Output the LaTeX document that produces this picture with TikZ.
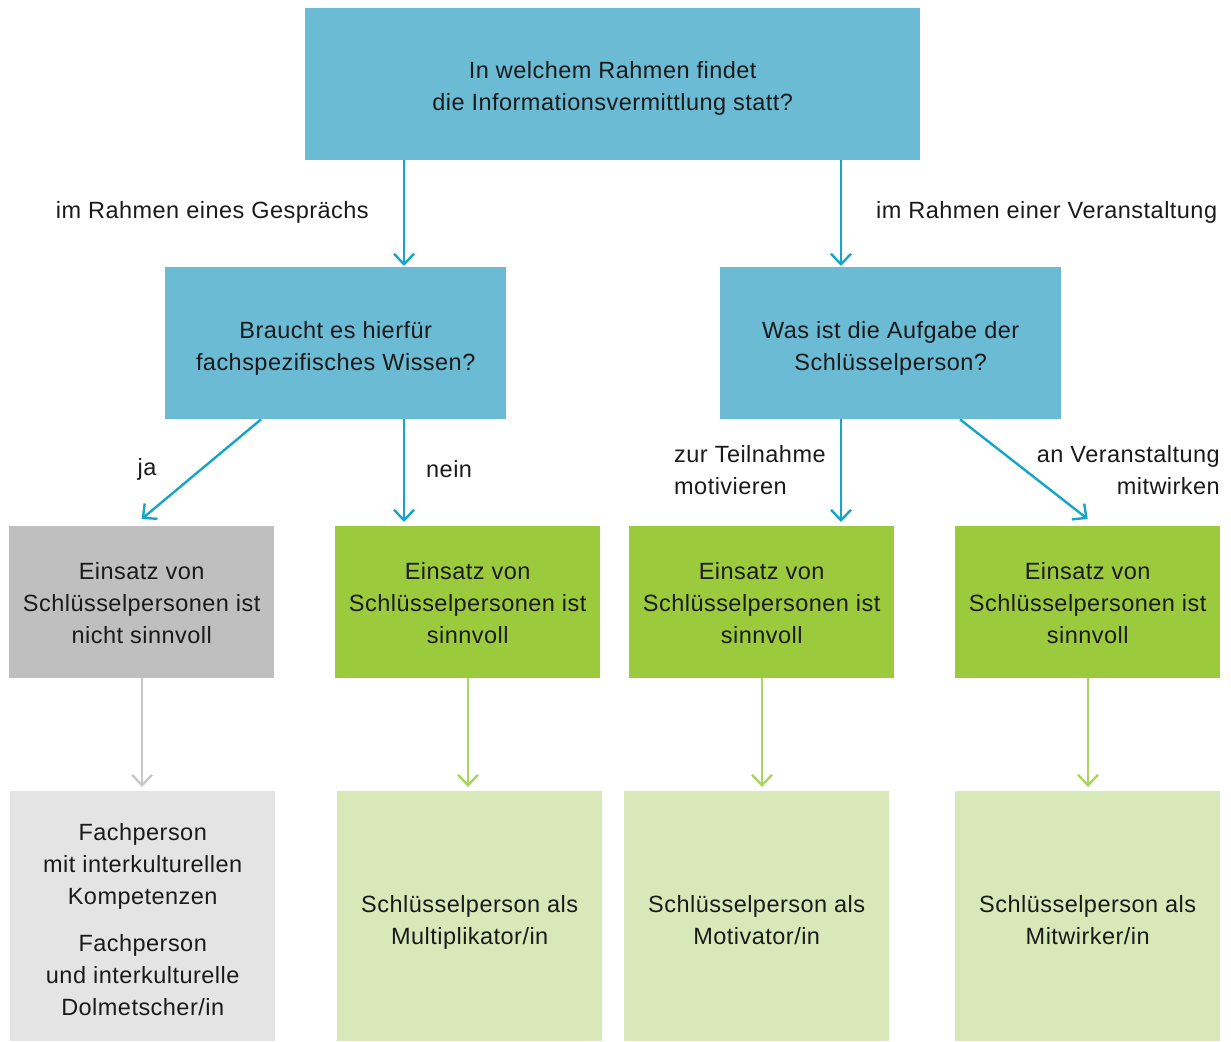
\documentclass[tikz,border=0pt]{standalone}
\usepackage{fontspec}
\setmainfont{Liberation Sans}[LetterSpace=2]
\usetikzlibrary{arrows.meta}
\definecolor{qblue}{HTML}{6BBBD5}
\definecolor{ablue}{HTML}{16A5C9}
\definecolor{bgreen}{HTML}{9BCA3C}
\definecolor{lgreen}{HTML}{D9E8B9}
\definecolor{bgrey}{HTML}{BFBFBF}
\definecolor{lgrey}{HTML}{E5E4E5}
\definecolor{agrey}{HTML}{C9C9C9}
\definecolor{agreen}{HTML}{A9D462}
\definecolor{txt}{HTML}{1A1A1A}
\begin{document}
\begin{tikzpicture}[x=1pt,y=-1pt,
  every node/.style={font=\fontsize{23.5}{32}\selectfont, text=txt},
  box/.style={draw=none, inner sep=0pt, anchor=north west},
  tx/.style={inner sep=0pt, align=center},
  con/.style={line width=2.4pt, -{Straight Barb[length=10.5pt,width=20pt,line width=2.4pt]}},
  lbl/.style={inner sep=0pt}
]
\useasboundingbox (0,0) rectangle (1231,1041);
% boxes
\node[box, fill=qblue, minimum width=615pt, minimum height=152pt] (top) at (305,8) {};
\node[box, fill=qblue, minimum width=341pt, minimum height=152pt] (lq) at (165,267) {};
\node[box, fill=qblue, minimum width=341pt, minimum height=152pt] (rq) at (720,267) {};
\node[box, fill=bgrey, minimum width=265pt, minimum height=152pt] (g1) at (9,526) {};
\node[box, fill=bgreen, minimum width=265pt, minimum height=152pt] (g2) at (335,526) {};
\node[box, fill=bgreen, minimum width=265pt, minimum height=152pt] (g3) at (629,526) {};
\node[box, fill=bgreen, minimum width=265pt, minimum height=152pt] (g4) at (955,526) {};
\node[box, fill=lgrey, minimum width=265pt, minimum height=250pt] (r1) at (10,791) {};
\node[box, fill=lgreen, minimum width=265pt, minimum height=250pt] (r2) at (337,791) {};
\node[box, fill=lgreen, minimum width=265pt, minimum height=250pt] (r3) at (624,791) {};
\node[box, fill=lgreen, minimum width=265pt, minimum height=250pt] (r4) at (955,791) {};
% box texts
\node[tx] (topt) at ([yshift=-4pt]top.center) {In welchem Rahmen findet\\die Informationsvermittlung statt?};
\node[tx] (lqt) at ([yshift=-5pt]lq.center) {Braucht es hierfür\\fachspezifisches Wissen?};
\node[tx] (rqt) at ([yshift=-5pt]rq.center) {Was ist die Aufgabe der\\Schlüsselperson?};
\node[tx] (g1t) at ([yshift=-1pt]g1.center) {Einsatz von\\Schlüsselpersonen ist\\nicht sinnvoll};
\node[tx] (g2t) at ([yshift=-1pt]g2.center) {Einsatz von\\Schlüsselpersonen ist\\sinnvoll};
\node[tx] (g3t) at ([yshift=-1pt]g3.center) {Einsatz von\\Schlüsselpersonen ist\\sinnvoll};
\node[tx] (g4t) at ([yshift=-1pt]g4.center) {Einsatz von\\Schlüsselpersonen ist\\sinnvoll};
\node[tx] (r1t) at ([yshift=-3pt]r1.center) {Fachperson\\mit interkulturellen\\Kompetenzen\\[15pt]Fachperson\\und interkulturelle\\Dolmetscher/in};
\node[tx] (r2t) at ([yshift=-6pt]r2.center) {Schlüsselperson als\\Multiplikator/in};
\node[tx] (r3t) at ([yshift=-3.5pt]r3.center) {Schlüsselperson als\\Motivator/in};
\node[tx] (r4t) at ([yshift=-3.5pt]r4.center) {Schlüsselperson als\\Mitwirker/in};
% connectors
\draw[con, ablue] (top.south -| 404,0) -- ([yshift=1pt]lq.north -| 404,0);
\draw[con, ablue] (top.south -| 841,0) -- ([yshift=1pt]rq.north -| 841,0);
\draw[con, ablue] (lq.south -| 261,0) -- ([yshift=7pt]g1.north);
\draw[con, ablue] (lq.south -| 404,0) -- ([yshift=4pt]g2.north -| 404,0);
\draw[con, ablue] (rq.south -| 841,0) -- ([yshift=4pt]g3.north -| 841,0);
\draw[con, ablue] (rq.south -| 960,0) -- ([yshift=7pt]g4.north);
\draw[con, agrey] (g1.south -| 142,0) -- ([yshift=4pt]r1.north -| 142,0);
\draw[con, agreen] (g2.south -| 468,0) -- ([yshift=4pt]r2.north -| 468,0);
\draw[con, agreen] (g3.south -| 762,0) -- ([yshift=4pt]r3.north -| 762,0);
\draw[con, agreen] (g4.south -| 1088,0) -- ([yshift=4pt]r4.north -| 1088,0);
% labels
\node[lbl, anchor=east] (l1) at (369,212) {im Rahmen eines Gesprächs};
\node[lbl, anchor=west] (l2) at (876,212) {im Rahmen einer Veranstaltung};
\node[lbl] (l3) at (147,469) {ja};
\node[lbl, anchor=west] (l4) at (426,469) {nein};
\node[lbl, anchor=west, align=left] (l5) at (674,470) {zur Teilnahme\\motivieren};
\node[lbl, anchor=east, align=right] (l6) at (1220,470) {an Veranstaltung\\mitwirken};
\end{tikzpicture}
\end{document}
